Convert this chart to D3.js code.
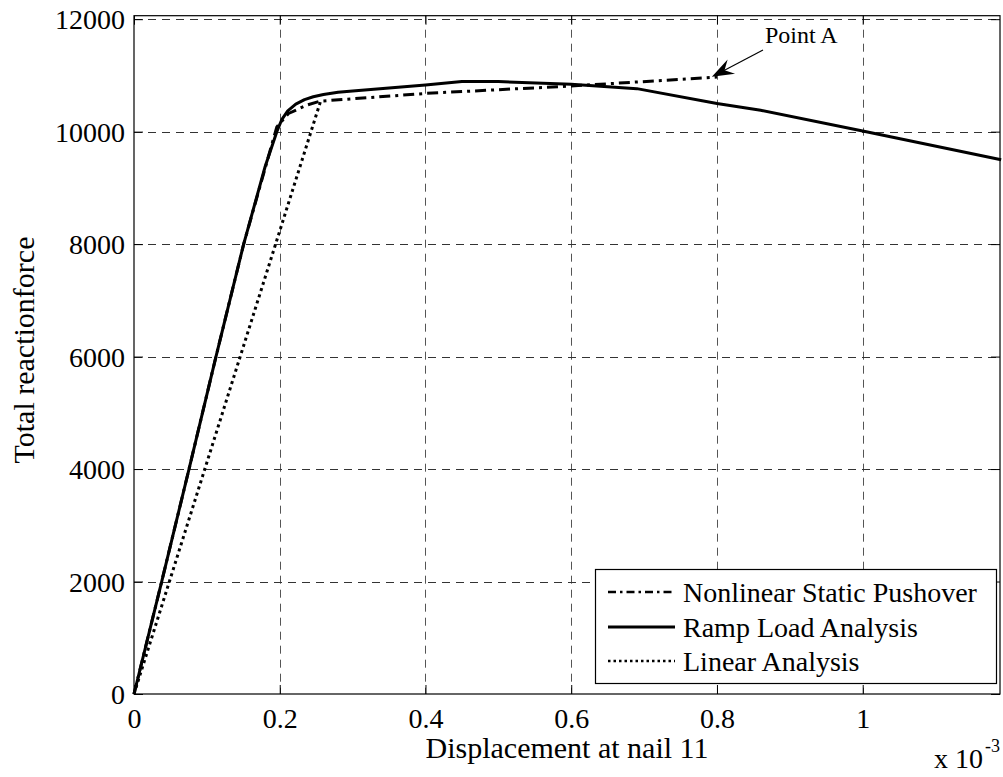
<!DOCTYPE html>
<html><head><meta charset="utf-8">
<script src="https://cdn.jsdelivr.net/npm/d3@7"></script>
<style>
body{margin:0;background:#fff}
svg text{font-family:"Liberation Serif","Times New Roman",serif;fill:#000}
</style>
</head><body>
<svg id="c" width="1003" height="777"></svg>
<script>
// Data (displacement in units of 1e-3)
const pushX = [0, 0.038, 0.0755, 0.1125, 0.1505, 0.196, 0.212, 0.237, 0.255, 0.4, 0.6, 0.8];
const pushY = [0, 2000, 4000, 6000, 8000, 10085, 10323, 10471, 10542, 10680, 10812, 10970];
const rampX = [0, 0.038, 0.0755, 0.1125, 0.1505, 0.18, 0.196, 0.203, 0.211, 0.222, 0.234, 0.246, 0.26, 0.28, 0.3, 0.4, 0.45, 0.5, 0.6, 0.69, 0.8, 0.86, 1.0, 1.19];
const rampY = [0, 2000, 4000, 6000, 8000, 9380, 10000, 10220, 10370, 10490, 10570, 10620, 10660, 10700, 10725, 10830, 10890, 10890, 10845, 10765, 10500, 10380, 10010, 9500];
const linX = [0, 0.256];
const linY = [0, 10540];
const xTicks = [0, 0.2, 0.4, 0.6, 0.8, 1];
const xTickLabels = ["0", "0.2", "0.4", "0.6", "0.8", "1"];
const yTicks = [0, 2000, 4000, 6000, 8000, 10000, 12000];
const seriesNames = ["Nonlinear Static Pushover", "Ramp Load Analysis", "Linear Analysis"];
const pointA = {x: 0.793, y: 10975, label: "Point A"};
const xMax = 1.1884, yMax = 12062;

const svg = d3.select("#c");
const L = 134, R = 1000, T = 15.7, B = 694;
const x = d3.scaleLinear().domain([0, xMax]).range([L, R]);
const y = d3.scaleLinear().domain([0, yMax]).range([B, T]);

// grid
const g = svg.append("g");
g.selectAll(".vg").data(xTicks.slice(1)).enter().append("line")
  .attr("x1", d => Math.round(x(d)) + 0.5).attr("x2", d => Math.round(x(d)) + 0.5)
  .attr("y1", T).attr("y2", B)
  .attr("stroke", "#555").attr("stroke-width", 1).attr("stroke-dasharray", "8,6");
g.selectAll(".hg").data(yTicks.slice(1)).enter().append("line")
  .attr("y1", d => Math.round(y(d)) + 0.5).attr("y2", d => Math.round(y(d)) + 0.5)
  .attr("x1", L).attr("x2", R)
  .attr("stroke", "#333").attr("stroke-width", 1).attr("stroke-dasharray", "8,6");

// axes via d3
const xAxis = d3.axisBottom(x).tickValues(xTicks).tickFormat((d, i) => xTickLabels[i]).tickSizeInner(-9).tickSizeOuter(0).tickPadding(14);
const yAxis = d3.axisLeft(y).tickValues(yTicks).tickFormat(d3.format("d")).tickSizeInner(-9).tickSizeOuter(0).tickPadding(9);
const xa = svg.append("g").attr("transform", `translate(0,${B})`).call(xAxis);
const ya = svg.append("g").attr("transform", `translate(${L},0)`).call(yAxis);
const xTop = svg.append("g").attr("transform", `translate(0,${T})`).call(d3.axisTop(x).tickValues(xTicks).tickFormat("").tickSizeInner(-9).tickSizeOuter(0));
const yRight = svg.append("g").attr("transform", `translate(${R},0)`).call(d3.axisRight(y).tickValues(yTicks).tickFormat("").tickSizeInner(-9).tickSizeOuter(0));
[xa, ya, xTop, yRight].forEach(a => {
  a.select(".domain").remove();
  a.selectAll("line").attr("stroke", "#000");
  a.selectAll("text").attr("font-size", 28).attr("font-family", "Liberation Serif");
});
ya.selectAll("text").attr("dy", "0.35em");
// box
svg.append("rect").attr("x", L).attr("y", T).attr("width", R - L).attr("height", B - T)
  .attr("fill", "none").attr("stroke", "#000").attr("stroke-width", 1.2);

// lines
const styles = [
  {dash: "11,5,3,5", w: 3},
  {dash: null, w: 3},
  {dash: "3,3.5", w: 3}
];
const line = d3.line().x(p => x(p[0])).y(p => y(p[1]));
const series = [d3.zip(pushX, pushY), d3.zip(rampX, rampY), d3.zip(linX, linY)];
svg.append("g").selectAll("path").data(series).enter().append("path")
  .attr("d", line)
  .attr("fill", "none").attr("stroke", "#000")
  .attr("stroke-width", (d, i) => styles[i].w)
  .attr("stroke-dasharray", (d, i) => styles[i].dash)
  .attr("stroke-linejoin", "round");

// axis labels
svg.append("text").attr("x", (L + R) / 2).attr("y", 758).attr("text-anchor", "middle")
  .attr("font-size", 30).text("Displacement at nail 11");
svg.append("text").attr("transform", "translate(34,350) rotate(-90)").attr("text-anchor", "middle")
  .attr("font-size", 30).text("Total reactionforce");
svg.append("text").attr("x", 983).attr("y", 768).attr("text-anchor", "end").attr("font-size", 28).text("x 10");
svg.append("text").attr("x", 985).attr("y", 752).attr("font-size", 18).text("-3");

// legend
const lg = svg.append("g");
lg.append("rect").attr("x", 595.5).attr("y", 569.5).attr("width", 401).attr("height", 114)
  .attr("fill", "#fff").attr("stroke", "#000").attr("stroke-width", 1.2);
const rowY = [592, 627, 661];
seriesNames.forEach((n, i) => {
  lg.append("line").attr("x1", 608).attr("x2", 675).attr("y1", rowY[i]).attr("y2", rowY[i])
    .attr("stroke", "#000").attr("stroke-width", i === 1 ? 3 : 2.5)
    .attr("stroke-dasharray", i === 0 ? "8,4,2.5,4" : (i === 2 ? "2.5,3" : null));
  lg.append("text").attr("x", 683).attr("y", rowY[i]).attr("dy", "0.35em").attr("font-size", 28).text(n);
});

// annotation Point A
const tip = [x(pointA.x), y(pointA.y)];
const tail = [763, 50];
svg.append("text").attr("x", 765).attr("y", 43).attr("font-size", 24).text(pointA.label);
const dx = tip[0] - tail[0], dy = tip[1] - tail[1], len = Math.hypot(dx, dy);
const ux = dx / len, uy = dy / len, nx = -uy, ny = ux;
const HL = 22, HW = 8;
svg.append("line").attr("x1", tail[0]).attr("y1", tail[1])
  .attr("x2", tip[0] - ux * HL * 0.6).attr("y2", tip[1] - uy * HL * 0.6)
  .attr("stroke", "#000").attr("stroke-width", 1.2);
const head = [
  tip,
  [tip[0] - ux * HL + nx * HW, tip[1] - uy * HL + ny * HW],
  [tip[0] - ux * HL * 0.65, tip[1] - uy * HL * 0.65],
  [tip[0] - ux * HL - nx * HW, tip[1] - uy * HL - ny * HW]
];
svg.append("path").attr("d", "M" + head.map(p => p.join(",")).join("L") + "Z").attr("fill", "#000");
</script>
</body></html>
